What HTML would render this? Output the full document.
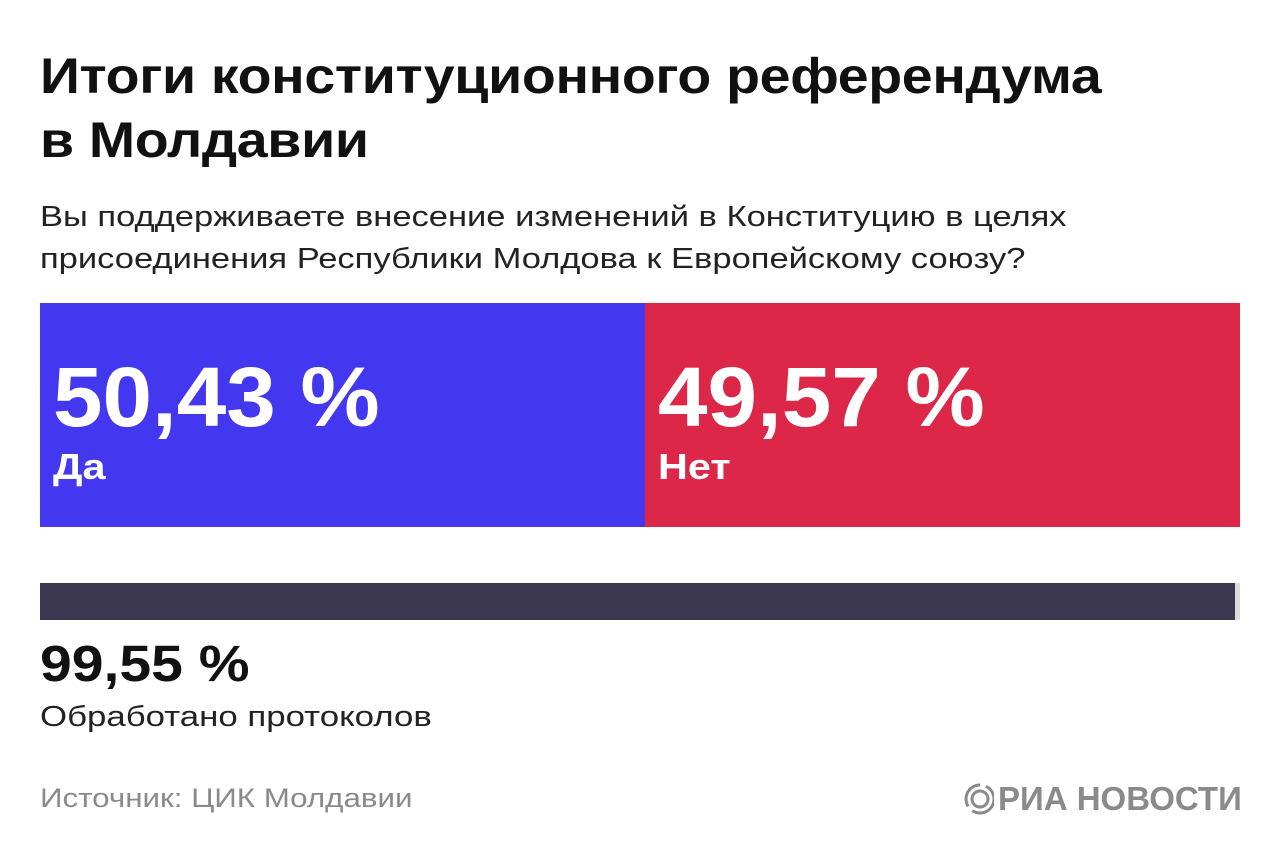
<!DOCTYPE html>
<html><head><meta charset="utf-8"><style>
body{margin:0;width:1280px;height:858px;background:#fff;font-family:"Liberation Sans",sans-serif;position:relative;overflow:hidden;color:#111}
.a{position:absolute;white-space:nowrap}
.s{transform-origin:0 0}
</style></head><body>
<div class="a s" style="left:40px;top:44px;font-size:50px;font-weight:bold;line-height:64px;letter-spacing:-0.3px;transform:scaleX(1.11)">Итоги конституционного референдума<br>в Молдавии</div>
<div class="a s" style="left:40px;top:196px;font-size:29px;line-height:42px;color:#222;transform:scaleX(1.19)">Вы поддерживаете внесение изменений в Конституцию в целях<br>присоединения Республики Молдова к Европейскому союзу?</div>
<div id="chart"></div>
<div class="a s" style="left:40px;top:634px;font-size:51px;font-weight:bold;transform:scaleX(1.12)" id="pv"></div>
<div class="a s" style="left:40px;top:701px;font-size:29px;color:#222;transform:scaleX(1.2)">Обработано протоколов</div>
<div class="a s" style="left:40px;top:783px;font-size:27px;color:#8a8a8a;transform:scaleX(1.16)">Источник: ЦИК Молдавии</div>
<div class="a" style="left:962px;top:780px;font-size:33px;font-weight:bold;color:#8a8a8a;display:flex;align-items:center">
<svg width="32" height="32" viewBox="0 0 32 32"><circle cx="18" cy="16" r="14" fill="none" stroke="#8a8a8a" stroke-width="3" stroke-dasharray="30 6"/><circle cx="18" cy="16" r="8" fill="none" stroke="#8a8a8a" stroke-width="3"/></svg><span style="margin-left:4px">РИА НОВОСТИ</span></div>
<script>
const labels=["Да","Нет"];
const values=[50.43,49.57];
const colors=["#4337f0","#dc2748"];
const processed=[99.55];
const X0=40,W=1200,Y=303,H=224;
const x=v=>v/100*W;
const c=document.getElementById('chart');
let acc=0;
const fmt=v=>v.toFixed(2).replace('.',',')+' %';
values.forEach((v,i)=>{
 const d=document.createElement('div');
 
 
 d.className='a';
 d.style.cssText=`left:${X0+x(acc)}px;top:${Y}px;width:${x(v)}px;height:${H}px;background:${colors[i]};color:#fff`;
 d.innerHTML=`<div class="s" style="position:absolute;left:13px;top:46px;font-size:84px;font-weight:bold;transform:scaleX(1.06)">${fmt(v)}</div><div class="s" style="position:absolute;left:13px;top:143px;font-size:36px;font-weight:bold;transform:scaleX(1.15)">${labels[i]}</div>`;
 c.appendChild(d);acc+=v;
});
const t=document.createElement('div');


t.className='a';t.style.cssText=`left:${X0}px;top:583px;width:${W}px;height:37px;background:#ddd`;c.appendChild(t);
const p=document.createElement('div');


p.className='a';p.style.cssText=`left:${X0}px;top:583px;width:${x(processed[0])}px;height:37px;background:#3b3750`;c.appendChild(p);
document.getElementById('pv').textContent=fmt(processed[0]);
</script>
</body></html>
